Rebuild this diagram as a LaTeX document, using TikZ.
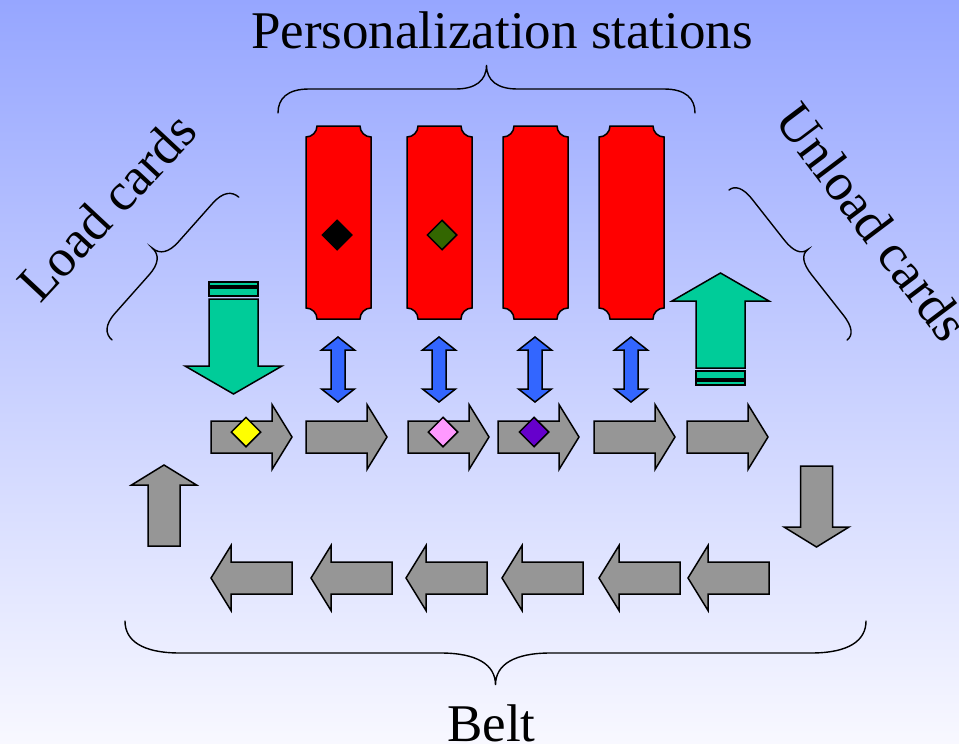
\documentclass[tikz,border=0pt]{standalone}
\usepackage{fontspec}
\setmainfont{Liberation Serif}
\usetikzlibrary{shapes.geometric}
\definecolor{bgtop}{RGB}{150,166,255}
\definecolor{bgbot}{RGB}{248,248,255}
\definecolor{stationred}{RGB}{255,0,0}
\definecolor{loadgreen}{RGB}{0,204,153}
\definecolor{moveblue}{RGB}{51,102,255}
\definecolor{beltgray}{RGB}{150,150,150}
\definecolor{cardyellow}{RGB}{255,255,0}
\definecolor{cardpink}{RGB}{255,153,255}
\definecolor{cardpurple}{RGB}{102,0,204}
\definecolor{carddkgreen}{RGB}{51,102,0}
\newcommand\mybrace[3]{%
  \draw[bracestyle] (0,0) .. controls (0,{-0.6*#2}) and ({0.3*#3},{-#2}) .. (#3,{-#2})
    -- ({#1/2-#3},{-#2}) .. controls ({#1/2-0.35*#3},{-#2}) and ({#1/2},{-1.35*#2}) .. ({#1/2},{-2*#2})
    .. controls ({#1/2},{-1.35*#2}) and ({#1/2+0.35*#3},{-#2}) .. ({#1/2+#3},{-#2})
    -- ({#1-#3},{-#2}) .. controls ({#1-0.3*#3},{-#2}) and (#1,{-0.6*#2}) .. (#1,0);}
\tikzset{
  outline/.style={draw=black, line width=1.5pt, line join=miter},
  bracestyle/.style={draw=black, line width=1.4pt, line cap=round},
  label/.style={font=\fontsize{53}{60}\selectfont, inner sep=0pt},
  card/.style={diamond, outline, minimum width=30pt, minimum height=30pt, inner sep=0pt},
  pics/grayarr/.style={code={
    \draw[outline, fill=beltgray] (0,-16) -- (61,-16) -- (61,-32.5) -- (81,0) -- (61,32.5) -- (61,16) -- (0,16) -- cycle;}},
  pics/dblarr/.style={code={
    \draw[outline, fill=moveblue] (0,-32.5) -- (16.5,-19.5) -- (7,-19.5) -- (7,19.5) -- (16.5,19.5) -- (0,32.5)
      -- (-16.5,19.5) -- (-7,19.5) -- (-7,-19.5) -- (-16.5,-19.5) -- cycle;}},
  pics/greenarr/.style={code={
    \draw[outline, fill=loadgreen] (-24.5,0) -- (24.5,0) -- (24.5,67) -- (48.5,67) -- (0,95) -- (-48.5,67) -- (-24.5,67) -- cycle;
    \draw[outline, fill=loadgreen] (-24.5,-11) rectangle (24.5,-3);
    \draw[outline, fill=loadgreen] (-24.5,-17) rectangle (24.5,-13);}},
  pics/station/.style={code={
    \def\r{11}
    \draw[outline, fill=stationred] (11,0) -- (54,0) .. controls (54,6.07) and (58.93,11) .. (65,11)
      -- (65,182) .. controls (58.93,182) and (54,186.93) .. (54,193)
      -- (11,193) .. controls (11,186.93) and (6.07,182) .. (0,182)
      -- (0,11) .. controls (6.07,11) and (11,6.07) .. (11,0) -- cycle;}}
}
\begin{document}
\begin{tikzpicture}[x=1pt, y=-1pt]
\useasboundingbox (0,0) rectangle (959,744);
\shade[top color=bgtop, bottom color=bgbot] (0,0) rectangle (959,744);

% texts
\node[label, anchor=base] (ttl) at (502,48) {Personalization stations};
\node[label, anchor=base] (belt) at (491.5,741) {Belt};
\node[label, rotate=47] (load) at (107,207) {Load cards};
\node[label, rotate=-53] (unload) at (873,222) {Unload cards};

% braces
\begin{scope}[shift={(278,113)}] \mybrace{417}{24}{31} \end{scope}
\begin{scope}[shift={(125,621)}, yscale=-1] \mybrace{741}{32}{55} \end{scope}
\begin{scope}[shift={(112,340)}, rotate=48.4] \mybrace{191}{15.5}{22} \end{scope}
\begin{scope}[shift={(729,190)}, rotate=-51.8] \mybrace{191}{12.5}{22} \end{scope}

% stations
\pic (s1) at (306,126) {station};
\pic (s2) at (407,126) {station};
\pic (s3) at (503,126) {station};
\pic (s4) at (599,126) {station};
\node[card, fill=black] (c1) at (337,235) {};
\node[card, fill=carddkgreen] (c2) at (442,235) {};

% exchange arrows
\pic (d1) at (338,369.5) {dblarr};
\pic (d2) at (439,369.5) {dblarr};
\pic (d3) at (535,369.5) {dblarr};
\pic (d4) at (631,369.5) {dblarr};

% load / unload
\pic (ld) at (233.5,299) {greenarr};
\pic[rotate=180] (ul) at (720.5,368) {greenarr};

% belt top row
\foreach \x [count=\i] in {211,306,408,498,594,687}
  \pic (t\i) at (\x,437) {grayarr};
% belt bottom row
\foreach \x [count=\i] in {292,392,487,583,680,769}
  \pic[rotate=180] (b\i) at (\x,578) {grayarr};
\pic[rotate=90] (up) at (164,546) {grayarr};
\pic[rotate=-90] (dn) at (816.5,466) {grayarr};

% cards on belt
\node[card, fill=cardyellow] (c3) at (246,432) {};
\node[card, fill=cardpink] (c4) at (443,432) {};
\node[card, fill=cardpurple] (c5) at (534,432) {};
\end{tikzpicture}
\end{document}
